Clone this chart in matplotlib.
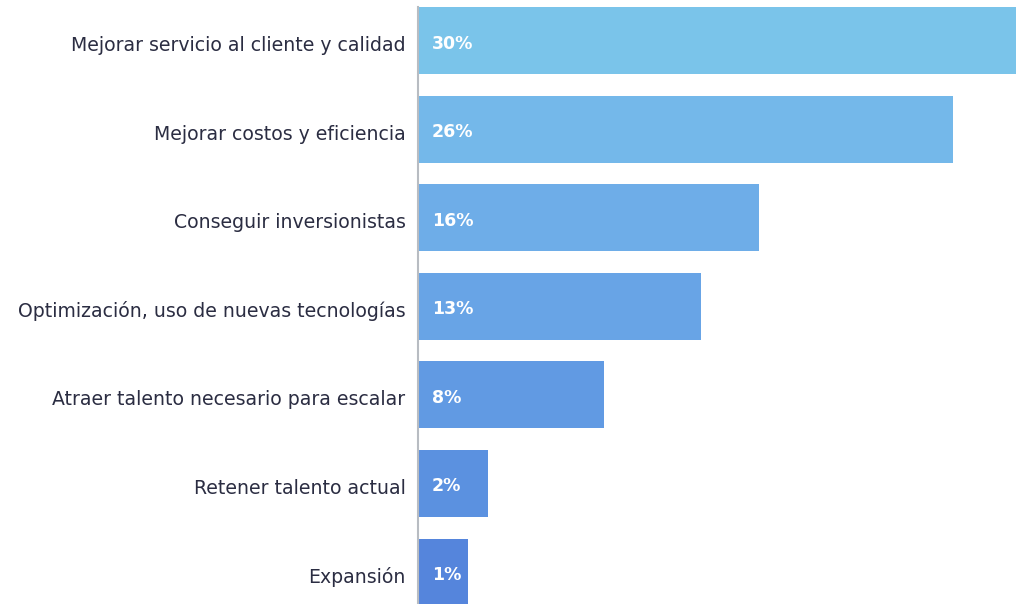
import matplotlib
matplotlib.use("Agg")
import matplotlib.pyplot as plt

# data
categories = [
    "Mejorar servicio al cliente y calidad",
    "Mejorar costos y eficiencia",
    "Conseguir inversionistas",
    "Optimización, uso de nuevas tecnologías",
    "Atraer talento necesario para escalar",
    "Retener talento actual",
    "Expansión",
]
values = [30, 26, 16, 13, 8, 2, 1]
labels = ["30%", "26%", "16%", "13%", "8%", "2%", "1%"]
bar_colors = ["#7AC4EA", "#74B8EA", "#6EADE8", "#68A4E6", "#619AE3", "#5B91E0", "#5585DC"]

plt.rcParams['font.family'] = ['DejaVu Sans']

fig = plt.figure(figsize=(10.16, 6.04), dpi=100)
ax = fig.add_axes([418 / 1016, 0, 598 / 1016, 597 / 604])

base = 1.6  # bars start slightly left of zero
ypos = list(range(len(categories)))
ax.barh(ypos, [v + base for v in values], left=-base, height=0.757,
        color=bar_colors, edgecolor='none')

ax.set_xlim(-base, -base + 598 / 19.4)
ax.set_ylim(6 + 32 / 88.5, -0.463 + 7 / 88.5)

for y, lab in zip(ypos, labels):
    ax.text(-base + 0.7, y + 0.03, lab, ha='left', va='center', color='white',
            fontsize=12.5, fontweight='bold')

ax.set_yticks([y + 0.03 for y in ypos])
ax.set_yticklabels(categories, fontsize=13.6, color='#2b2d42')
ax.tick_params(axis='y', length=0, pad=9)
ax.set_xticks([])

for side in ['top', 'right', 'bottom']:
    ax.spines[side].set_visible(False)
ax.spines['left'].set_color('#b8bcc2')
ax.spines['left'].set_linewidth(1.5)

fig.savefig('out.png', dpi=100)
